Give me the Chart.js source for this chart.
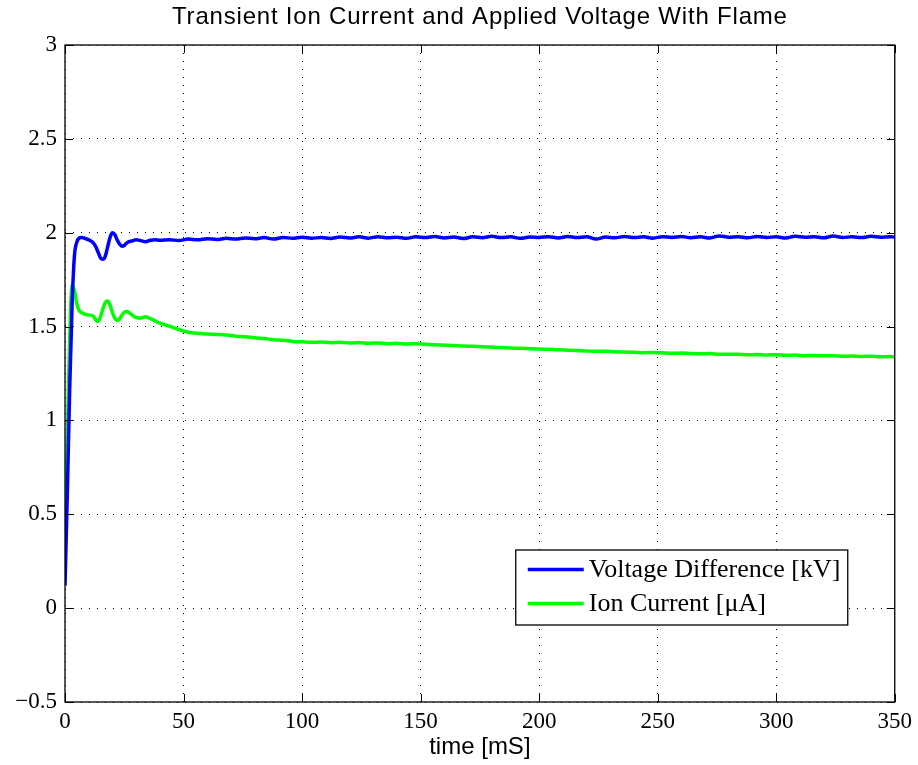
<!DOCTYPE html>
<html>
<head>
<meta charset="utf-8">
<script src="https://cdn.jsdelivr.net/npm/chart.js@4"></script>
<style>
  html, body { margin: 0; padding: 0; background: #fff; }
  #wrap { width: 918px; height: 765px; }
</style>
</head>
<body>
<div id="wrap"><canvas id="c" width="918" height="765"></canvas></div>
<script>
const chartTitle = 'Transient Ion Current and Applied Voltage With Flame';
const xTitle = 'time [mS]';
const seriesLabels = ['Voltage Difference [kV]', 'Ion Current [\u03BCA]'];
const xTicks = [0, 50, 100, 150, 200, 250, 300, 350];
const yTicks = [-0.5, 0, 0.5, 1, 1.5, 2, 2.5, 3];

const timeMs = [
  0, 1, 2, 3, 4, 5, 6, 7, 8, 10, 12, 13, 14, 15, 16, 17, 18, 19, 20, 21, 22, 23, 24, 25, 26, 27, 28, 30, 32, 34, 36, 38,
  40, 44, 48, 52, 56, 60, 64, 68, 72, 76, 80, 84, 88, 92, 96, 100, 104, 108, 112, 116, 120, 124, 128, 132, 136, 140,
  144, 148, 152, 156, 160, 164, 168, 172, 176, 180, 184, 188, 192, 196, 200, 204, 208, 212, 216, 220, 224, 228, 232,
  236, 240, 244, 248, 252, 256, 260, 264, 268, 272, 276, 280, 284, 288, 292, 296, 300, 304, 308, 312, 316, 320, 324,
  328, 332, 336, 340, 344, 348, 350
];

const voltageKV = [
  0.12, 0.62, 1.18, 1.62, 1.88, 1.95, 1.972, 1.975, 1.972, 1.962, 1.945, 1.925, 1.895, 1.865, 1.858, 1.875, 1.925, 1.975,
  2.0, 1.99, 1.962, 1.94, 1.928, 1.932, 1.945, 1.952, 1.955, 1.962, 1.958, 1.952, 1.96, 1.963,
  1.960, 1.963, 1.958, 1.966, 1.962, 1.968, 1.964, 1.970, 1.966, 1.972, 1.968, 1.974, 1.966, 1.975, 1.970, 1.976,
  1.971, 1.974, 1.969, 1.977, 1.972, 1.978, 1.971, 1.979, 1.973, 1.976, 1.970, 1.978, 1.974, 1.980, 1.972, 1.977,
  1.969, 1.978, 1.973, 1.981, 1.974, 1.978, 1.970, 1.977, 1.975, 1.979, 1.972, 1.980, 1.974, 1.978, 1.966, 1.977,
  1.973, 1.980, 1.974, 1.978, 1.971, 1.979, 1.975, 1.980, 1.973, 1.978, 1.972, 1.983, 1.976, 1.979, 1.973, 1.980,
  1.975, 1.978, 1.972, 1.981, 1.976, 1.979, 1.973, 1.982, 1.975, 1.978, 1.974, 1.981, 1.976, 1.979, 1.977
];

const ionCurrentUA = [
  0.23, 0.92, 1.45, 1.72, 1.69, 1.62, 1.585, 1.575, 1.568, 1.562, 1.555, 1.535, 1.528, 1.555, 1.595, 1.628, 1.636, 1.615,
  1.575, 1.545, 1.533, 1.54, 1.56, 1.575, 1.58, 1.575, 1.565, 1.548, 1.545, 1.552, 1.542, 1.53,
  1.518, 1.502, 1.484, 1.470, 1.465, 1.460, 1.458, 1.455, 1.449, 1.446, 1.440, 1.436, 1.430, 1.427, 1.421, 1.419,
  1.416, 1.418, 1.414, 1.416, 1.413, 1.415, 1.411, 1.413, 1.409, 1.411, 1.407, 1.409, 1.406, 1.403, 1.401, 1.399,
  1.396, 1.395, 1.392, 1.390, 1.388, 1.386, 1.384, 1.382, 1.380, 1.379, 1.376, 1.374, 1.372, 1.370, 1.368, 1.369,
  1.366, 1.364, 1.363, 1.361, 1.362, 1.360, 1.358, 1.359, 1.356, 1.355, 1.356, 1.353, 1.352, 1.353, 1.350, 1.351,
  1.349, 1.350, 1.347, 1.348, 1.345, 1.346, 1.344, 1.345, 1.342, 1.343, 1.341, 1.342, 1.339, 1.340, 1.338
];

const seriesColors = ['#0000ff', '#00ff00'];

const toPoints = (ys) => timeMs.map((t, i) => ({ x: t, y: ys[i] }));

const fmt = (v) => String(v).replace('-', '\u2212');

const framePlugin = {
  id: 'frame',
  afterDatasetsDraw(chart) {
    const { ctx, chartArea: a, scales } = chart;
    ctx.save();
    // frame
    ctx.strokeStyle = '#000';
    ctx.lineWidth = 1.3;
    ctx.strokeRect(a.left, a.top, a.right - a.left, a.bottom - a.top);
    // inward ticks
    const L = 8;
    ctx.lineWidth = 1;
    ctx.beginPath();
    xTicks.forEach(v => {
      const x = Math.round(scales.x.getPixelForValue(v)) + 0.5;
      ctx.moveTo(x, a.bottom); ctx.lineTo(x, a.bottom - L);
      ctx.moveTo(x, a.top); ctx.lineTo(x, a.top + L);
    });
    yTicks.forEach(v => {
      const y = Math.round(scales.y.getPixelForValue(v)) + 0.5;
      ctx.moveTo(a.left, y); ctx.lineTo(a.left + L, y);
      ctx.moveTo(a.right, y); ctx.lineTo(a.right - L, y);
    });
    ctx.stroke();

    // legend box
    const bw = 332, bh = 75;
    const bx = a.right - 47 - bw, by = a.bottom - 77 - bh;
    ctx.fillStyle = '#fff';
    ctx.fillRect(bx, by, bw, bh);
    ctx.lineWidth = 1.3;
    ctx.strokeStyle = '#000';
    ctx.strokeRect(bx, by, bw, bh);
    ctx.font = '26px "Liberation Serif", "Times New Roman", serif';
    ctx.textBaseline = 'middle';
    ctx.textAlign = 'left';
    chart.data.datasets.forEach((ds, i) => {
      const yy = by + 19.5 + i * 34;
      ctx.strokeStyle = ds.borderColor;
      ctx.lineWidth = 3.5;
      ctx.beginPath();
      ctx.moveTo(bx + 12, yy); ctx.lineTo(bx + 68, yy);
      ctx.stroke();
      ctx.fillStyle = '#000';
      ctx.fillText(ds.label, bx + 73, yy + 1);
    });

    // title
    ctx.font = '24px "Liberation Sans", Arial, sans-serif';
    if ('letterSpacing' in ctx) ctx.letterSpacing = '0.8px';
    ctx.textAlign = 'center';
    ctx.textBaseline = 'alphabetic';
    ctx.fillStyle = '#000';
    ctx.fillText(chartTitle, (a.left + a.right) / 2, 24);
    ctx.restore();
  }
};

new Chart(document.getElementById('c'), {
  type: 'line',
  data: {
    datasets: [
      { label: seriesLabels[0], data: toPoints(voltageKV), borderColor: seriesColors[0], borderWidth: 3.5, pointRadius: 0, cubicInterpolationMode: 'monotone', fill: false },
      { label: seriesLabels[1], data: toPoints(ionCurrentUA), borderColor: seriesColors[1], borderWidth: 3.5, pointRadius: 0, cubicInterpolationMode: 'monotone', fill: false }
    ]
  },
  options: {
    responsive: false,
    animation: false,
    layout: { padding: { left: 0, right: 22, top: 45, bottom: 0 } },
    plugins: {
      legend: { display: false },
      title: { display: false },
      tooltip: { enabled: false }
    },
    scales: {
      x: {
        type: 'linear',
        min: 0, max: 350,
        afterBuildTicks: (s) => { s.ticks = xTicks.map(v => ({ value: v })); },
        afterFit: (s) => { s.height = 63; },
        ticks: {
          color: '#000', padding: 6, maxRotation: 0,
          font: { family: '"Liberation Serif", "Times New Roman", serif', size: 23 },
          callback: (v) => fmt(v)
        },
        grid: { color: '#000', lineWidth: 1, drawTicks: false },
        border: { display: false, dash: [1, 7] },
        title: {
          display: true, text: xTitle, color: '#000',
          font: { family: '"Liberation Sans", Arial, sans-serif', size: 24 },
          padding: { top: 0, bottom: 3 }
        }
      },
      y: {
        type: 'linear',
        min: -0.5, max: 3,
        afterBuildTicks: (s) => { s.ticks = yTicks.map(v => ({ value: v })); },
        afterFit: (s) => { s.width = 65; },
        ticks: {
          color: '#000', padding: 8,
          font: { family: '"Liberation Serif", "Times New Roman", serif', size: 23 },
          callback: (v) => fmt(v)
        },
        grid: { color: '#000', lineWidth: 1, drawTicks: false },
        border: { display: false, dash: [1, 7] }
      }
    }
  },
  plugins: [framePlugin]
});
</script>
</body>
</html>
